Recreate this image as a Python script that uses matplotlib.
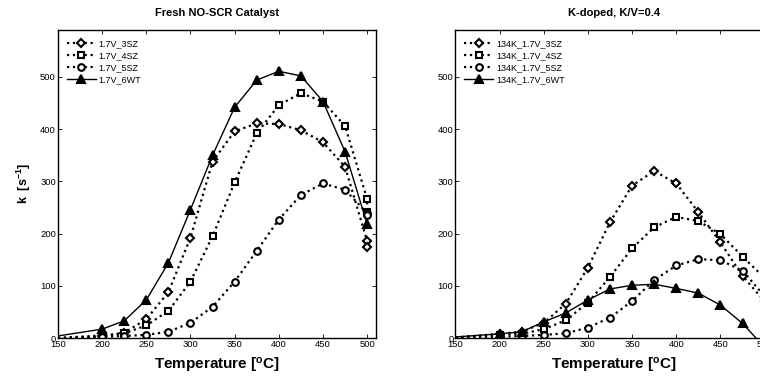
import matplotlib
matplotlib.use("Agg")
import matplotlib.pyplot as plt

plt.rcParams['font.family'] = ['Liberation Sans', 'DejaVu Sans']

# ---- data: Fresh NO-SCR catalyst ----
T_fresh = [150, 200, 225, 250, 275, 300, 325, 350, 375, 400, 425, 450, 475, 500, 500]
fresh_3SZ = [0, 3, 10, 36, 88, 192, 338, 396, 411, 410, 398, 375, 328, 186, 174]
fresh_4SZ = [0, 5, 9, 24, 52, 108, 195, 298, 392, 446, 469, 453, 406, 266, 241]
fresh_5SZ = [0, 2, 4, 6, 12, 29, 60, 108, 167, 227, 274, 296, 284, 239, 236]
T_fresh_wt = [150, 200, 225, 250, 275, 300, 325, 350, 375, 400, 425, 450, 475, 500]
fresh_6WT = [4, 17, 33, 73, 144, 246, 350, 442, 494, 511, 502, 453, 357, 218]

# ---- data: K-doped, K/V = 0.4 ----
T_k = [150, 200, 225, 250, 275, 300, 325, 350, 375, 400, 425, 450, 475, 500]
k_3SZ = [1, 8, 12, 29, 66, 135, 222, 292, 320, 296, 241, 183, 119, 70]
k_4SZ = [1, 6, 8, 17, 34, 68, 117, 172, 212, 232, 224, 199, 156, 115]
k_5SZ = [0, 2, 4, 6, 9, 20, 39, 71, 111, 139, 151, 149, 129, 80]
k_6WT = [2, 8, 12, 31, 48, 73, 94, 101, 103, 95, 86, 63, 28, -18]

labels_fresh = ['1.7V_3SZ', '1.7V_4SZ', '1.7V_5SZ', '1.7V_6WT']
labels_k = ['134K_1.7V_3SZ', '134K_1.7V_4SZ', '134K_1.7V_5SZ', '134K_1.7V_6WT']
titles = ['Fresh NO-SCR Catalyst', 'K-doped, K/V=0.4']

xticks = [150, 200, 250, 300, 350, 400, 450, 500]
yticks = [0, 100, 200, 300, 400, 500]

fig = plt.figure(figsize=(7.6, 3.77), dpi=100)
axL = fig.add_axes([0.0763, 0.1034, 0.4184, 0.817])
axR = fig.add_axes([0.5993, 0.1034, 0.4184, 0.817])

styles = [
    dict(ls=':', marker='D', ms=4.0, mfc='white'),
    dict(ls=':', marker='s', ms=5.0, mfc='white'),
    dict(ls=':', marker='o', ms=4.8, mfc='white'),
    dict(ls='-', marker='^', ms=5.5, mfc='black'),
]

def draw(ax, series, labels, title):
    for (x, y), st, lab in zip(series, styles, labels):
        ax.plot(x, y, color='black', lw=1.6 if st['ls'] == ':' else 1.0,
                ls=st['ls'], marker=st['marker'], ms=st['ms'],
                mfc=st['mfc'], mec='black', mew=1.5,
                markevery=list(range(1, len(x))), label=lab, clip_on=True)
    ax.set_xlim(150, 510)
    ax.set_ylim(0, 590)
    ax.set_xticks(xticks)
    ax.set_yticks(yticks)
    ax.tick_params(direction='in', top=True, right=True, length=3,
                   labelsize=6.8, pad=1.5, width=0.6)
    for s in ax.spines.values():
        s.set_linewidth(1.0)
    ax.set_title(title, fontsize=8, fontweight='bold', pad=10)
    ax.set_xlabel('Temperature [$\\mathregular{^oC}$]', fontsize=11,
                  fontweight='bold', labelpad=5)
    ax.legend(loc='upper left', frameon=False, fontsize=6.5,
              handlelength=3.2, handletextpad=0.3, labelspacing=0.35,
              borderaxespad=0.6)

draw(axL, [(T_fresh, fresh_3SZ), (T_fresh, fresh_4SZ), (T_fresh, fresh_5SZ),
           (T_fresh_wt, fresh_6WT)], labels_fresh, titles[0])
draw(axR, [(T_k, k_3SZ), (T_k, k_4SZ), (T_k, k_5SZ), (T_k, k_6WT)],
     labels_k, titles[1])

axL.set_ylabel('k  [s$\\mathregular{^{-1}}$]', fontsize=9, fontweight='bold',
               labelpad=5)

fig.savefig('out.png', dpi=100)
